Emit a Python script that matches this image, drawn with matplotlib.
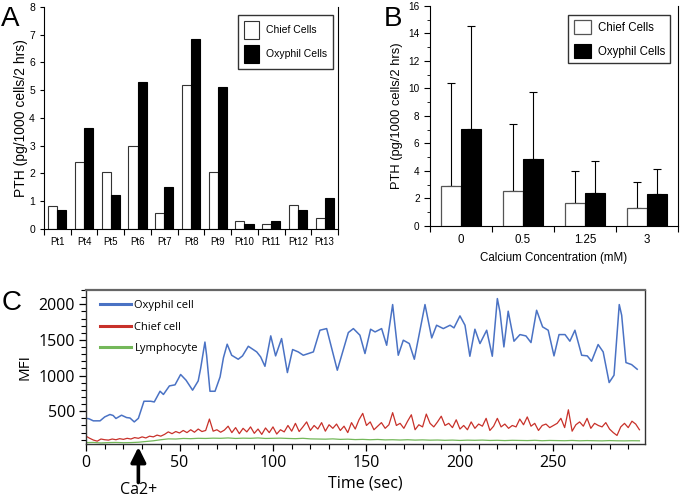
import numpy as np
import matplotlib.pyplot as plt
from matplotlib.ticker import MultipleLocator

# ---- panel A: PTH per patient ----
patients = ['Pt1', 'Pt4', 'Pt5', 'Pt6', 'Pt7', 'Pt8', 'Pt9', 'Pt10', 'Pt11', 'Pt12', 'Pt13']
chief_a = [0.82, 2.40, 2.04, 2.98, 0.58, 5.20, 2.04, 0.28, 0.19, 0.87, 0.38]
oxy_a = [0.67, 3.64, 1.24, 5.30, 1.50, 6.85, 5.13, 0.19, 0.30, 0.67, 1.10]

# ---- panel B: PTH vs calcium ----
calcium = ['0', '0.5', '1.25', '3']
chief_b = [2.93, 2.55, 1.65, 1.33]
chief_b_err = [7.47, 4.84, 2.33, 1.89]
oxy_b = [7.08, 4.90, 2.42, 2.30]
oxy_b_err = [7.47, 4.87, 2.33, 1.87]

# ---- panel C: MFI traces ----
oxy_t = [0, 1.5, 3.9, 7.5, 10, 12.8, 14.5, 16, 19, 21.7, 23.5, 25.8, 28, 31, 34.6, 36.5,
         39.6, 41.4, 44.6, 47.6, 50.6, 53.5, 57, 60, 61.3, 63.6, 64.5, 66.3, 69, 71.7,
         73.5, 75.5, 77.9, 81.4, 83.7, 86.8, 91.3, 93.4, 95.7, 98.8, 101.4, 104.6, 107.7,
         110.5, 113.5, 116.2, 121.6, 125.1, 128.7, 134.4, 140.3, 143, 146.5, 149.2, 152.2,
         154.6, 158.1, 160.8, 164, 167, 169.7, 172.9, 175.6, 181.3, 184.9, 187.5, 191.1,
         194.7, 196.8, 200, 202.7, 205.3, 208, 210.7, 214.3, 217.3, 220, 221.4, 223.5,
         225.8, 228.9, 232.1, 235.3, 238, 241, 244.2, 247.2, 250.3, 253, 256.2, 258.8,
         261.5, 265.1, 268.1, 270.4, 273.9, 276.6, 279.8, 282.4, 285.2, 286.5, 288.8,
         291.8, 294.8]
oxy_c = [400, 395, 365, 365, 420, 454, 440, 398, 444, 411, 405, 350, 400, 640, 640, 630,
         780, 735, 855, 870, 1015, 935, 795, 925, 1100, 1470, 1284, 780, 780, 981,
         1250, 1440, 1285, 1229, 1276, 1411, 1332, 1262, 1130, 1557, 1276, 1519, 1042,
         1365, 1332, 1285, 1332, 1636, 1659, 1075, 1603, 1659, 1566, 1309, 1650,
         1612, 1659, 1425, 1996, 1285, 1496, 1449, 1229, 1996, 1528, 1706, 1659,
         1706, 1669, 1837, 1706, 1271, 1650, 1449, 1636, 1271, 2080, 1893, 1402,
         1903, 1482, 1575, 1556, 1463, 1916, 1683, 1636, 1276, 1575, 1575, 1482,
         1636, 1285, 1276, 1201, 1435, 1332, 902, 1005, 1996, 1846, 1182,
         1154, 1089]

chief_t = np.arange(0, 297, 2)
chief_c = [150, 120, 95, 80, 110, 100, 95, 110, 100, 115, 105, 120, 110, 130, 120, 140,
           125, 150, 140, 165, 150, 175, 210, 185, 215, 195, 230, 200, 240, 205, 250, 215,
           230, 390, 220, 240, 205, 235, 290, 200, 270, 185, 260, 210, 280, 190, 250, 175,
           265, 200, 280, 180, 240, 210, 300, 220, 330, 215, 280, 350, 230, 300, 250, 340,
           220, 310, 260, 320, 230, 290, 200, 340, 250, 380, 470, 300, 350, 240, 290, 340,
           260, 310, 480, 300, 330, 260, 360, 450, 240, 310, 280, 460, 330, 280, 350, 430,
           300, 330, 270, 380, 250, 300, 240, 350, 260, 320, 290, 400, 230, 290, 400, 280,
           320, 260, 300, 280, 390, 310, 420, 290, 330, 230, 300, 320, 270, 300, 330, 400,
           270, 520, 220, 310, 350, 290, 400, 260, 330, 300, 280, 340, 250, 200, 160, 280,
           330, 270, 360, 320, 240]

lymph_t = np.arange(0, 297, 4)
lymph_c = [60, 62, 55, 60, 62, 58, 60, 65, 75, 85, 100, 112, 110, 118, 115, 120, 118, 122,
           120, 125, 118, 122, 120, 125, 118, 120, 122, 118, 115, 120, 112, 110, 108, 112,
           105, 108, 102, 105, 100, 104, 98, 100, 96, 100, 95, 98, 94, 96, 92, 95, 90, 94,
           92, 95, 90, 92, 88, 92, 90, 88, 92, 86, 90, 88, 86, 90, 85, 88, 86, 84, 88, 85,
           84, 86, 85]

AB_FONT = 'Liberation Sans'
C_FONT = 'Open Sans'

fig = plt.figure(figsize=(6.8, 4.99), dpi=100)

# panel A
axA = fig.add_axes([0.0647, 0.5411, 0.4324, 0.4449])
x = np.arange(len(patients))
w = 0.34
axA.bar(x - w / 2, chief_a, w, color='white', edgecolor='#333333', lw=0.8, label='Chief Cells')
axA.bar(x + w / 2, oxy_a, w, color='black', edgecolor='black', lw=0.8, label='Oxyphil Cells')
axA.set_xlim(-0.5, len(patients) - 0.5)
axA.set_ylim(0, 8)
axA.set_xticks(x)
axA.set_xticklabels(patients, fontsize=7, family=AB_FONT)
axA.set_xticks(np.arange(len(patients) + 1) - 0.5, minor=True)
axA.tick_params(axis='x', which='major', length=0, pad=6)
axA.tick_params(axis='x', which='minor', length=4, width=0.8)
axA.set_yticks(range(9))
axA.tick_params(axis='y', length=3, width=0.8, labelsize=7.5)
for lab in axA.get_yticklabels():
    lab.set_family(AB_FONT)
axA.set_ylabel('PTH (pg/1000 cells/2 hrs)', fontsize=10, family=AB_FONT)
axA.yaxis.set_label_coords(-0.055, 0.5)
axA.spines['top'].set_visible(False)
for s in axA.spines.values():
    s.set_linewidth(0.8)
axA.legend(loc='upper right', bbox_to_anchor=(0.983, 0.964), borderaxespad=0,
           prop={'family': AB_FONT, 'size': 7.5}, handlelength=1.45, handleheight=2.3,
           fancybox=False, edgecolor='#333333', framealpha=1, labelspacing=0.6,
           borderpad=0.55, handletextpad=0.7)

# panel B
axB = fig.add_axes([0.6324, 0.5471, 0.3647, 0.4409])
xb = np.arange(len(calcium))
wb = 0.33
axB.errorbar(xb - wb / 2, chief_b, yerr=[np.zeros(len(xb)), chief_b_err], fmt='none',
             ecolor='black', elinewidth=0.8, capsize=3, capthick=0.8)
axB.errorbar(xb + wb / 2, oxy_b, yerr=[np.zeros(len(xb)), oxy_b_err], fmt='none',
             ecolor='black', elinewidth=0.8, capsize=3, capthick=0.8)
axB.bar(xb - wb / 2, chief_b, wb, color='white', edgecolor='#555555', lw=0.9,
        label='Chief Cells', zorder=3)
axB.bar(xb + wb / 2, oxy_b, wb, color='black', edgecolor='black', lw=0.8,
        label='Oxyphil Cells', zorder=3)
axB.set_xlim(-0.5, len(calcium) - 0.5)
axB.set_ylim(0, 16)
axB.set_xticks(xb)
axB.set_xticklabels(calcium, fontsize=8.3, family=AB_FONT)
axB.set_xticks(np.arange(len(calcium) + 1) - 0.5, minor=True)
axB.tick_params(axis='x', which='major', length=0, pad=6)
axB.tick_params(axis='x', which='minor', length=4, width=0.8)
axB.yaxis.set_major_locator(MultipleLocator(2))
axB.yaxis.set_minor_locator(MultipleLocator(1))
axB.tick_params(axis='y', which='major', length=4, width=0.8, labelsize=7.2)
axB.tick_params(axis='y', which='minor', length=2.5, width=0.6)
for lab in axB.get_yticklabels():
    lab.set_family(AB_FONT)
axB.set_ylabel('PTH (pg/1000 cells/2 hrs)', fontsize=9.3, family=AB_FONT)
axB.yaxis.set_label_coords(-0.109, 0.5)
axB.set_xlabel('Calcium Concentration (mM)', fontsize=8.3, family=AB_FONT, labelpad=4)
axB.spines['top'].set_visible(False)
for s in axB.spines.values():
    s.set_linewidth(0.8)
axB.legend(loc='upper right', bbox_to_anchor=(0.968, 0.959), borderaxespad=0,
           prop={'family': AB_FONT, 'size': 8.3}, handlelength=1.48, handleheight=1.48,
           fancybox=False, edgecolor='#333333', framealpha=1, labelspacing=0.85,
           borderpad=0.45, handletextpad=0.6)

# panel C
axC = fig.add_axes([0.1265, 0.1102, 0.8221, 0.3086])
axC.plot(oxy_t, oxy_c, color='#4a72c4', lw=1.1, label='Oxyphil cell')
axC.plot(chief_t, chief_c, color='#c8312a', lw=0.9, label='Chief cell')
axC.plot(lymph_t, lymph_c, color='#74b85a', lw=0.9, label='Lymphocyte')
axC.set_xlim(0, 299)
axC.set_ylim(40, 2200)
axC.xaxis.set_major_locator(MultipleLocator(50))
axC.xaxis.set_minor_locator(MultipleLocator(10))
axC.yaxis.set_major_locator(MultipleLocator(500))
axC.yaxis.set_minor_locator(MultipleLocator(100))
axC.tick_params(axis='both', which='major', length=5, width=0.9, labelsize=11.5, pad=3)
axC.tick_params(axis='both', which='minor', length=3.5, width=0.8)
for lab in axC.get_xticklabels() + axC.get_yticklabels():
    lab.set_family(C_FONT)
for s in axC.spines.values():
    s.set_linewidth(1.0)
    s.set_color('#333333')
axC.spines['top'].set_linewidth(1.6)
axC.spines['top'].set_color('#666666')
axC.set_xlabel('Time (sec)', fontsize=11.5, family=C_FONT, labelpad=3)
axC.set_ylabel('MFI', fontsize=11, family=C_FONT, labelpad=4)
axC.legend(loc='upper left', bbox_to_anchor=(0.007, 1.0), frameon=False,
           prop={'family': C_FONT, 'size': 8}, handlelength=2.8, labelspacing=0.95,
           handletextpad=0.3)
for line in axC.get_legend().get_lines():
    line.set_linewidth(2.2)

# Ca2+ arrow
axC.annotate('', xy=(28, -0.02), xycoords=('data', 'axes fraction'),
             xytext=(28, -0.25), textcoords=('data', 'axes fraction'),
             arrowprops=dict(arrowstyle='-|>,head_width=0.45,head_length=0.9',
                             color='black', lw=2.6, shrinkA=0, shrinkB=0),
             annotation_clip=False)
axC.text(28, -0.30, 'Ca2+', transform=axC.get_xaxis_transform(), ha='center', va='center',
         fontsize=11.5, family=C_FONT)

# panel letters
fig.text(0.002, 0.988, 'A', fontsize=20, family=AB_FONT, va='top')
fig.text(0.564, 0.988, 'B', fontsize=20, family=AB_FONT, va='top')
fig.text(0.002, 0.418, 'C', fontsize=20, family=AB_FONT, va='top')

fig.savefig('out.png', dpi=100)
